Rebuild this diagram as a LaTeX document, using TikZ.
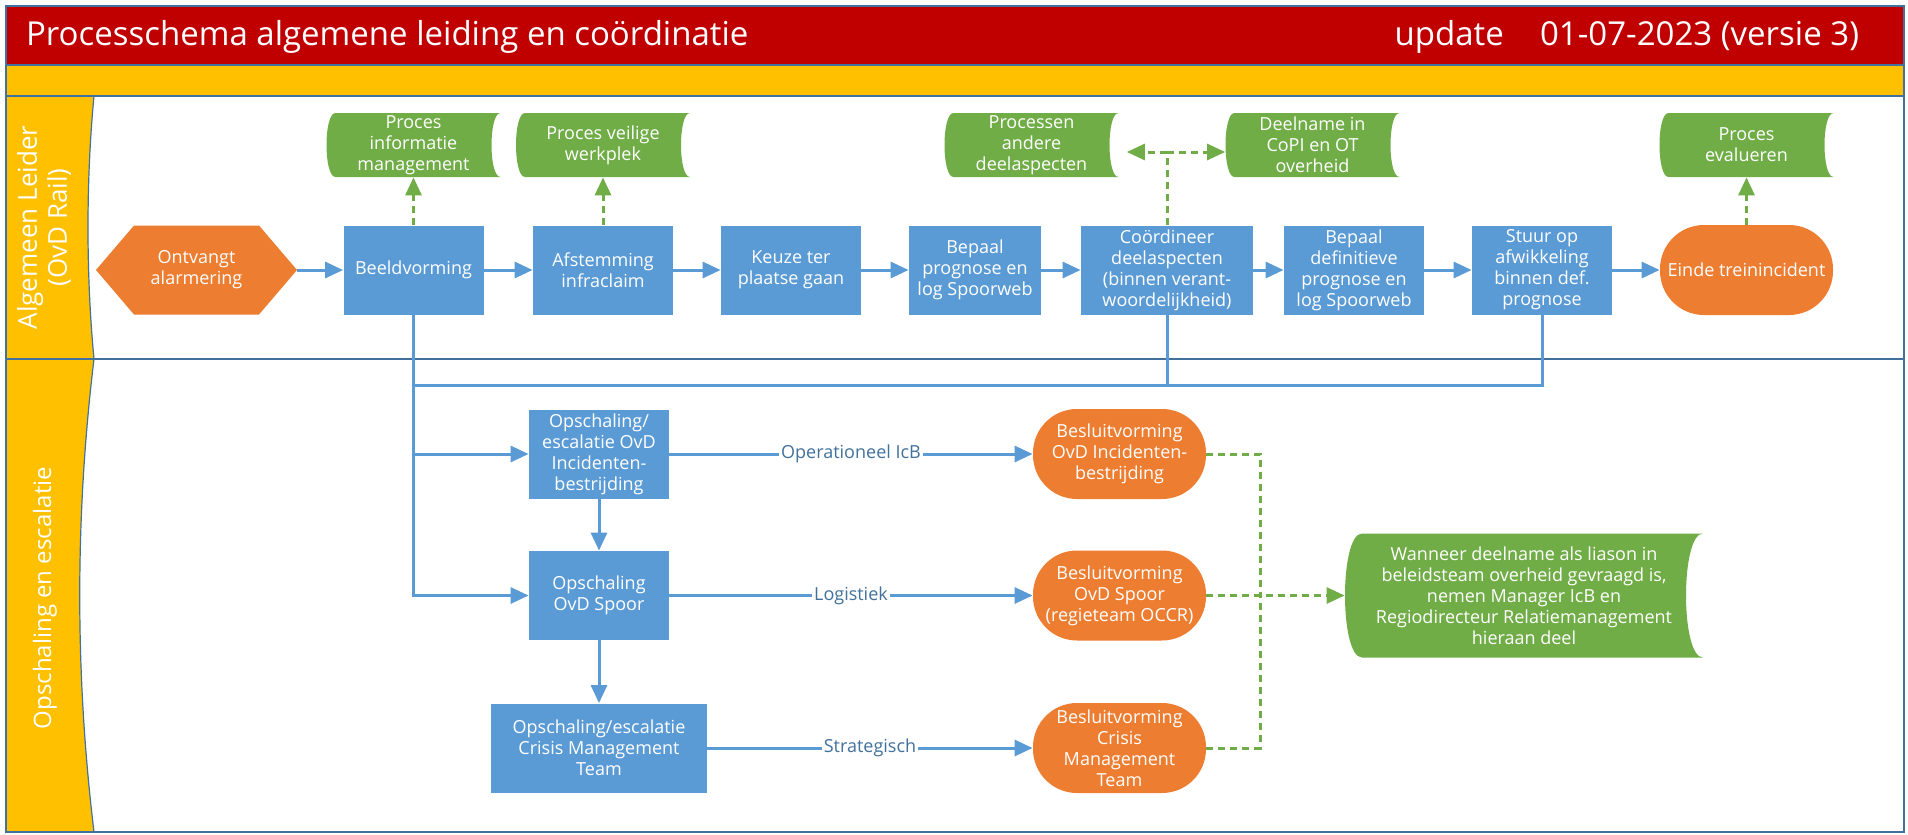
\documentclass[tikz,border=0pt]{standalone}
\usepackage{fontspec}
\setmainfont{Open Sans}
\usepackage{xcolor}
\usepackage{tikz}
\usetikzlibrary{arrows.meta}
\makeatletter
\renewcommand\small{%
  \@setfontsize\small{9pt}{10.5pt}%
}
\makeatother

\definecolor{kopred}{HTML}{C00000}
\definecolor{baanyellow}{HTML}{FFC000}
\definecolor{stapblue}{HTML}{5B9BD5}
\definecolor{randblue}{HTML}{41719C}
\definecolor{eindorange}{HTML}{ED7D31}
\definecolor{docgreen}{HTML}{70AD47}

\tikzset{
  stapbox/.style={fill=stapblue, text=white, align=center, minimum width=70pt, minimum height=44.5pt, inner sep=1pt},
  eindbox/.style={fill=eindorange, text=white, align=center, rounded corners=22pt, minimum width=86.5pt, minimum height=45pt, inner sep=1pt},
  docshape/.style={fill=white, text=white, align=center, inner sep=1pt, path picture={
      \fill[docgreen] (path picture bounding box.north east)
        .. controls +(-4/3*#1,0pt) and +(-4/3*#1,0pt) .. (path picture bounding box.south east)
        -- ([xshift=#1]path picture bounding box.south west)
        .. controls +(-4/3*#1,0pt) and +(-4/3*#1,0pt) .. ([xshift=#1]path picture bounding box.north west)
        -- cycle;}},
  hexshape/.style={fill=white, text=white, align=center, inner sep=1pt, minimum width=100.5pt, minimum height=44.5pt, path picture={
      \fill[eindorange] ([xshift=19pt]path picture bounding box.north west)
        -- ([xshift=-19pt]path picture bounding box.north east)
        -- (path picture bounding box.east)
        -- ([xshift=-19pt]path picture bounding box.south east)
        -- ([xshift=19pt]path picture bounding box.south west)
        -- (path picture bounding box.west) -- cycle;}},
  flow/.style={->, draw=stapblue, line width=1.5pt},
  lijn/.style={draw=stapblue, line width=1.5pt},
  stippel/.style={draw=docgreen, line width=1.5pt, dash pattern=on 3.5pt off 2.5pt},
  stippelflow/.style={stippel, ->},
  lbl/.style={fill=white, text=randblue, inner sep=1pt}
}

\begin{document}
\begin{tikzpicture}[x=0.5pt, y=-0.5pt, >={Triangle[length=9pt,width=8pt]}, every node/.style={font=\small}]
  \useasboundingbox (0,0) rectangle (1908,835);
  % kop en banen
  \fill[kopred] (6,6) rectangle (1904,65);
  \fill[baanyellow] (6,65) rectangle (1904,96);
  \fill[baanyellow] (6,96) -- (94,96) .. controls (86,180) and (86,275) .. (94,359) -- (6,359) -- cycle;
  \fill[baanyellow] (6,359) -- (94,359) .. controls (75,516) and (75,675) .. (94,832) -- (6,832) -- cycle;
  \draw[randblue, line width=0.6pt] (94,96) .. controls (86,180) and (86,275) .. (94,359);
  \draw[randblue, line width=0.6pt] (94,359) .. controls (75,516) and (75,675) .. (94,832);
  \draw[randblue, line width=0.6pt] (6,65) -- (1904,65) (6,96) -- (1904,96) (6,359) -- (1904,359);
  \draw[randblue, line width=1pt] (6,6) rectangle (1904,832);

  \node[anchor=west, text=white, font=\fontsize{16.5}{19}\selectfont] (titel) at (19,37) {Processchema algemene leiding en coördinatie};
  \node[anchor=east, text=white, font=\fontsize{16.5}{19}\selectfont] (versie) at (1866,37) {update\hspace{1.1em}01-07-2023 (versie 3)};
  \node[rotate=90, text=white, align=center, font=\fontsize{13}{15}\selectfont] (baan1) at (44,227.5) {Algemeen Leider\\(OvD Rail)};
  \node[rotate=90, text=white, font=\fontsize{12}{14}\selectfont] (baan2) at (45,598) {Opschaling en escalatie};

  % hoofdlijn
  \node[hexshape] (alarm) at (196.5,270) {Ontvangt\\alarmering};
  \node[stapbox] (beeld) at (413.5,270) {Beeldvorming};
  \node[stapbox] (afstem) at (603,270) {Afstemming\\infraclaim};
  \node[stapbox] (keuze) at (791,270) {Keuze ter\\plaatse gaan};
  \node[stapbox, minimum width=66pt] (bepaal) at (975,270) {Bepaal\\prognose en\\log Spoorweb};
  \node[stapbox, minimum width=86pt] (coord) at (1167,270) {Coördineer\\deelaspecten\\(binnen verant-\\woordelijkheid)};
  \node[stapbox] (definitief) at (1354,270) {Bepaal\\definitieve\\prognose en\\log Spoorweb};
  \node[stapbox] (stuur) at (1542,270) {Stuur op\\afwikkeling\\binnen def.\\prognose};
  \node[eindbox] (einde) at (1746.5,270) {Einde treinincident};

  % deelprocessen
  \node[docshape=4.5pt, minimum width=87pt, minimum height=32pt] (info) at (413.5,145) {Proces\\informatie\\management};
  \node[docshape=4.5pt, minimum width=87pt, minimum height=32pt] (veilig) at (603,145) {Proces veilige\\werkplek};
  \node[docshape=4.5pt, minimum width=87pt, minimum height=32pt] (andere) at (1031.5,145) {Processen\\andere\\deelaspecten};
  \node[docshape=4.5pt, minimum width=87pt, minimum height=32pt] (deel) at (1312.5,145) {Deelname in\\CoPI en OT\\overheid};
  \node[docshape=4.5pt, minimum width=87pt, minimum height=32pt] (eval) at (1746.5,145) {Proces\\evalueren};

  % opschaling
  \node[stapbox] (escal1) at (599,454) {Opschaling/\\escalatie OvD\\Incidenten-\\bestrijding};
  \node[stapbox] (escal2) at (599,595.5) {Opschaling\\OvD Spoor};
  \node[stapbox, minimum width=108pt] (escal3) at (599,748) {Opschaling/escalatie\\Crisis Management\\Team};
  \node[eindbox] (besl1) at (1119.5,454) {Besluitvorming\\OvD Incidenten-\\bestrijding};
  \node[eindbox] (besl2) at (1119.5,595.5) {Besluitvorming\\OvD Spoor\\(regieteam OCCR)};
  \node[eindbox] (besl3) at (1119.5,748) {Besluitvorming\\Crisis\\Management\\Team};
  \node[docshape=8.5pt, minimum width=179pt, minimum height=62pt] (liason) at (1524,595.5) {Wanneer deelname als liason in\\beleidsteam overheid gevraagd is,\\nemen Manager IcB en\\Regiodirecteur Relatiemanagement\\hieraan deel};

  \coordinate (bus) at (413.5,385);
  \coordinate (split) at (1167,152);
  \coordinate (merge) at (1260,595.5);

  \draw[flow] (alarm) -- (beeld);
  \draw[flow] (beeld) -- (afstem);
  \draw[flow] (afstem) -- (keuze);
  \draw[flow] (keuze) -- (bepaal);
  \draw[flow] (bepaal) -- (coord);
  \draw[flow] (coord) -- (definitief);
  \draw[flow] (definitief) -- (stuur);
  \draw[flow] (stuur) -- (einde);

  \draw[stippelflow] (beeld) -- (info);
  \draw[stippelflow] (afstem) -- (veilig);
  \draw[stippelflow] (einde) -- (eval);
  \draw[stippel] (coord) -- (split);
  \draw[stippelflow, shorten >=4pt] (split) -- (andere.east |- split);
  \draw[stippelflow] (split) -- (deel.west |- split);

  \draw[lijn] (stuur.south) |- (bus);
  \draw[lijn] (coord.south) -- (coord.south |- bus);
  \draw[flow] (beeld.south) |- (escal2.west);
  \draw[flow] (beeld.south |- escal1.west) -- (escal1.west);
  \draw[flow] (escal1) -- (escal2);
  \draw[flow] (escal2) -- (escal3);

  \draw[flow] (escal1) -- node[lbl] {Operationeel IcB} (besl1);
  \draw[flow] (escal2) -- node[lbl] {Logistiek} (besl2);
  \draw[flow] (escal3) -- node[lbl] {Strategisch} (besl3);

  \draw[stippel] (besl1.east) -| (merge);
  \draw[stippel] (besl3.east) -| (merge);
  \draw[stippelflow] (besl2) -- (liason);
\end{tikzpicture}
\end{document}
